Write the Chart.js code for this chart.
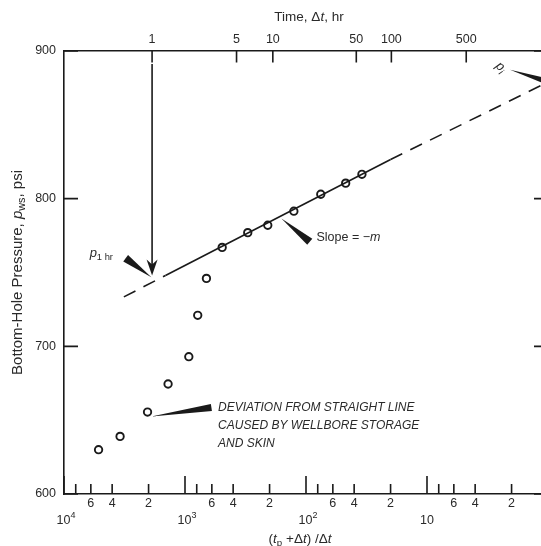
<!DOCTYPE html>
<html>
<head>
<meta charset="utf-8">
<script src="https://cdn.jsdelivr.net/npm/chart.js@4.4.1/dist/chart.umd.min.js"></script>
</head>
<body style="margin:0;overflow:hidden;background:#fff">
<canvas id="c" width="570" height="546"></canvas>
<script>
// Horner plot: shut-in pressure vs (tp + dt)/dt
const tp = 1870; // producing time, hr

const hornerRatio = [5180, 3440, 2040, 1380, 930, 785, 665, 493, 303, 207, 126, 75.5, 47, 34.5];
const pws = [630, 639, 655.5, 674.5, 693, 721, 746, 767, 777, 782, 791.5, 803, 810.5, 816.5];

// straight line: dashed / solid / dashed
const lineRatio = [3200, 1450, 20, 1];
const linePws = [733.5, 748, 826.5, 879];

const ratioTicks = [10000, 8000, 6000, 4000, 2000, 1000, 800, 600, 400, 200, 100, 80, 60, 40, 20, 10, 8, 6, 4, 2];
const ratioLabels = ['10^4', '', '6', '4', '2', '10^3', '', '6', '4', '2', '10^2', '', '6', '4', '2', '10', '', '6', '4', '2'];
const dtTicks = [1, 5, 10, 50, 100, 500];
const pTicks = [600, 700, 800, 900];

const FAM = '"Liberation Sans", Arial, sans-serif';
const INK = '#1a1a1a';
const TXT = '#2a2a2a';
const isMajor = v => Math.abs(Math.log10(v) - Math.round(Math.log10(v))) < 1e-9;

// parts: [text, flags] flags: i = italic, s = subscript, u = superscript
function rich(ctx, parts, x, y, size, align) {
  const has = (p, f) => p[1] && p[1].includes(f);
  const fontOf = p => (has(p, 'i') ? 'italic ' : '') + (has(p, 's') || has(p, 'u') ? size * 0.72 : size) + 'px ' + FAM;
  let w = 0;
  parts.forEach(p => { ctx.font = fontOf(p); w += ctx.measureText(p[0]).width; });
  let cx = align === 'center' ? x - w / 2 : x;
  ctx.textAlign = 'left';
  ctx.textBaseline = 'middle';
  parts.forEach(p => {
    ctx.font = fontOf(p);
    const dy = has(p, 's') ? size * 0.3 : has(p, 'u') ? -size * 0.38 : 0;
    ctx.fillText(p[0], cx, y + dy);
    cx += ctx.measureText(p[0]).width;
  });
}

function wedge(ctx, x1, y1, x2, y2, hw) {
  const dx = x2 - x1, dy = y2 - y1, len = Math.hypot(dx, dy);
  const nx = -dy / len * hw, ny = dx / len * hw;
  ctx.beginPath();
  ctx.moveTo(x1, y1);
  ctx.lineTo(x2 + nx, y2 + ny);
  ctx.lineTo(x2 - nx, y2 - ny);
  ctx.closePath();
  ctx.fill();
}

const decor = {
  id: 'decor',
  afterDraw(chart) {
    const ctx = chart.ctx;
    const {x, x2, y} = chart.scales;
    const a = chart.chartArea;
    const X = v => x.getPixelForValue(v);
    const Y = v => y.getPixelForValue(v);
    ctx.save();
    ctx.strokeStyle = INK;
    ctx.fillStyle = INK;
    ctx.lineWidth = 1.6;

    // inward ticks
    ctx.beginPath();
    ratioTicks.forEach(v => {
      const px = X(v), len = isMajor(v) ? 18 : 10;
      ctx.moveTo(px, a.bottom); ctx.lineTo(px, a.bottom - len);
    });
    x2.ticks.forEach(t => {
      const px = x2.getPixelForValue(t.value);
      ctx.moveTo(px, a.top); ctx.lineTo(px, a.top + 11.5);
    });
    pTicks.forEach(v => {
      ctx.moveTo(a.left, Y(v)); ctx.lineTo(a.left + 14, Y(v));
      ctx.moveTo(a.right, Y(v)); ctx.lineTo(a.right - 14, Y(v));
    });
    ctx.stroke();

    // arrow down from dt = 1 hr
    const ax = X((tp + 1) / 1), tipY = Y(748);
    ctx.beginPath();
    ctx.moveTo(ax, a.top + 13); ctx.lineTo(ax, tipY - 8);
    ctx.stroke();
    ctx.beginPath();
    ctx.moveTo(ax, tipY);
    ctx.lineTo(ax - 5.5, tipY - 16);
    ctx.lineTo(ax, tipY - 11);
    ctx.lineTo(ax + 5.5, tipY - 16);
    ctx.closePath();
    ctx.fill();

    // pointers
    wedge(ctx, X(1897), Y(746.7), X(3094), Y(759.7), 4);
    wedge(ctx, X(159.6), Y(786.6), X(93.1), Y(770.8), 4);
    wedge(ctx, X(1897), Y(652.4), X(605), Y(658.6), 3.5);
    wedge(ctx, X(2.06), Y(887.3), X(1), Y(879.2), 3.2);

    ctx.fillStyle = TXT;
    // decade labels with exponents, second row under the axis
    ratioTicks.forEach((v, i) => {
      if (!isMajor(v)) return;
      const [base, exp] = ratioLabels[i].split('^');
      const parts = exp ? [[base], [exp, 'u']] : [[base]];
      rich(ctx, parts, X(v) + (exp ? 2 : 0), a.bottom + 26.5, 12.5, 'center');
    });

    // annotation text
    rich(ctx, [['p', 'i'], ['1 hr', 's']], X(6140), Y(763.1), 13, 'left');
    rich(ctx, [['Slope = \u2212'], ['m', 'i']], X(81.9), Y(773.5), 12.5, 'left');
    ['DEVIATION FROM STRAIGHT LINE', 'CAUSED BY WELLBORE STORAGE', 'AND SKIN'].forEach((s, i) => {
      rich(ctx, [[s, 'i']], X(533), Y(658.3) + i * 17.7, 12, 'left');
    });
    ctx.save();
    ctx.translate(X(2.45), Y(889));
    ctx.rotate(0.75);
    rich(ctx, [['p', 'i'], ['i', 'is']], 0, 0, 13, 'center');
    ctx.restore();

    // axis titles
    rich(ctx, [['Time, \u0394'], ['t', 'i'], [', hr']], 309, 17, 13.5, 'center');
    rich(ctx, [['('], ['t', 'i'], ['p', 's'], [' +\u0394'], ['t', 'i'], [') /\u0394'], ['t', 'i']], 300, 539, 13.5, 'center');
    ctx.save();
    ctx.translate(18, (a.top + a.bottom) / 2);
    ctx.rotate(-Math.PI / 2);
    rich(ctx, [['Bottom-Hole Pressure, '], ['p', 'i'], ['ws', 's'], [', psi']], 0, 0, 15, 'center');
    ctx.restore();
    ctx.restore();
  }
};

const tickFont = {family: FAM, size: 12.5, lineHeight: 1.35};

new Chart(document.getElementById('c'), {
  type: 'scatter',
  data: {
    datasets: [
      {
        data: lineRatio.map((r, i) => ({x: r, y: linePws[i]})),
        showLine: true,
        pointRadius: 0,
        borderColor: INK,
        borderWidth: 1.6,
        segment: {borderDash: c => c.p0DataIndex === 1 ? [] : [13, 9]}
      },
      {
        data: hornerRatio.map((r, i) => ({x: r, y: pws[i]})),
        pointRadius: 3.7,
        pointBorderWidth: 1.9,
        pointBorderColor: INK,
        pointBackgroundColor: '#fff'
      }
    ]
  },
  options: {
    responsive: false,
    animation: false,
    devicePixelRatio: 1,
    layout: {padding: {left: 0, right: 22, top: 0, bottom: 0}},
    plugins: {legend: {display: false}, tooltip: {enabled: false}},
    scales: {
      x: {
        type: 'logarithmic', position: 'bottom', min: 1, max: 10000, reverse: true,
        grid: {display: false, drawTicks: false},
        border: {display: true, color: INK, width: 1.6},
        afterBuildTicks: s => { s.ticks = ratioTicks.map(v => ({value: v})); },
        afterFit: s => { s.height = 52; },
        ticks: {
          autoSkip: false, maxRotation: 0, padding: 1, color: TXT, font: tickFont,
          callback: (v, i) => isMajor(ratioTicks[i]) ? '' : ratioLabels[i]
        }
      },
      x2: {
        type: 'logarithmic', position: 'top', min: 1, max: 10000, reverse: true,
        grid: {display: false, drawTicks: false},
        border: {display: true, color: INK, width: 1.6},
        afterBuildTicks: s => { s.ticks = dtTicks.map(d => ({value: (tp + d) / d})); },
        afterFit: s => { s.height = 51; },
        ticks: {
          autoSkip: false, maxRotation: 0, padding: 3, color: TXT, font: tickFont,
          callback: (v, i) => String(dtTicks[i])
        }
      },
      y: {
        type: 'linear', position: 'left', min: 600, max: 900,
        grid: {display: false, drawTicks: false},
        border: {display: true, color: INK, width: 1.6},
        afterBuildTicks: s => { s.ticks = pTicks.map(v => ({value: v})); },
        afterFit: s => { s.width = 64; },
        ticks: {padding: 8, color: TXT, font: tickFont}
      },
      y2: {
        type: 'linear', position: 'right', min: 600, max: 900,
        grid: {display: false, drawTicks: false},
        border: {display: true, color: INK, width: 1.6},
        afterFit: s => { s.width = 0; },
        ticks: {display: false}
      }
    }
  },
  plugins: [decor]
});
</script>
</body>
</html>
